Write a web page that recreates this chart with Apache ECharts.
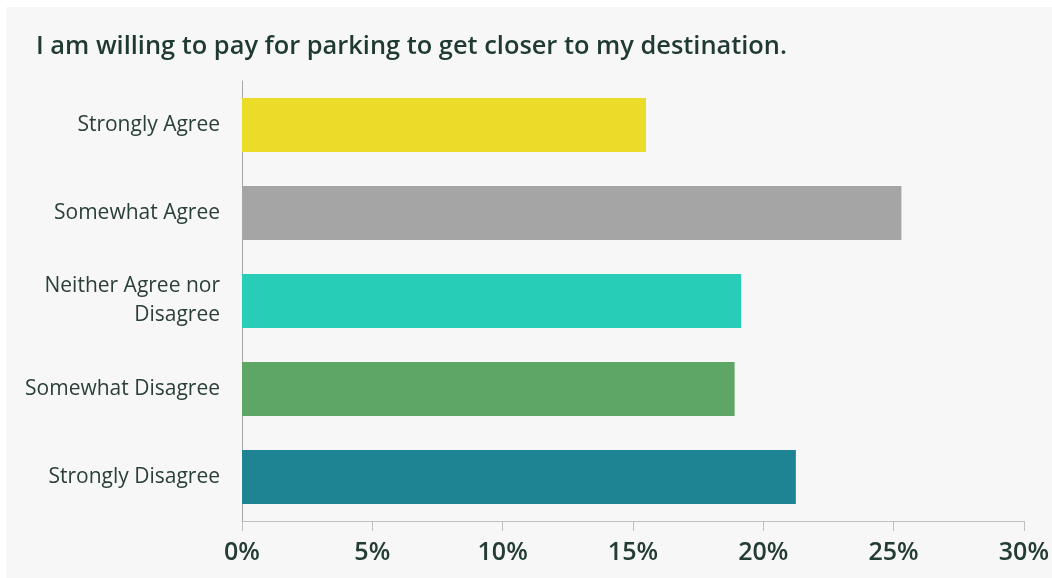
<!DOCTYPE html>
<html>
<head>
<meta charset="utf-8">
<script src="https://cdn.jsdelivr.net/npm/echarts@6/dist/echarts.min.js"></script>
<style>
  html, body { margin: 0; padding: 0; background: #ffffff; }
  #chart { position: absolute; left: 0; top: 0; width: 1052px; height: 578px; }
</style>
</head>
<body>
<div id="chart"></div>
<script>
// data
var categories = ['Strongly Agree', 'Somewhat Agree', 'Neither Agree nor\nDisagree', 'Somewhat Disagree', 'Strongly Disagree']
var values = [15.5, 25.3, 19.15, 18.9, 21.25]
var barColors = ['#ebdc29', '#a5a5a5', '#27cdb6', '#5ea665', '#1e8494']
var titleText = 'I am willing to pay for parking to get closer to my destination.'

var chart = echarts.init(document.getElementById('chart'))
var font = '"Open Sans", "Noto Sans", sans-serif'

var option = {
  animation: false,
  backgroundColor: 'transparent',
  graphic: [{
    type: 'rect',
    z: -10,
    shape: { x: 6, y: 7, width: 1046, height: 571 },
    style: { fill: '#f7f7f7' }
  }],
  title: {
    text: titleText,
    left: 31,
    top: 29,
    textStyle: {
      color: '#1f3a33',
      fontFamily: font,
      fontWeight: 600,
      fontSize: 25.4
    }
  },
  grid: {
    left: 242,
    right: 22,
    top: 81,
    height: 440,
    containLabel: false
  },
  xAxis: {
    type: 'value',
    min: 0,
    max: 30,
    interval: 5,
    axisLine: { show: true, lineStyle: { color: '#bfbfbf', width: 1 } },
    axisTick: { show: true, length: 10, lineStyle: { color: '#bfbfbf' } },
    splitLine: { show: false },
    axisLabel: {
      formatter: '{value}%',
      color: '#233c34',
      fontFamily: font,
      fontWeight: 600,
      fontSize: 25,
      margin: 19
    }
  },
  yAxis: {
    type: 'category',
    inverse: true,
    data: categories,
    axisLine: { show: true, lineStyle: { color: '#a6a6a6', width: 1 } },
    axisTick: { show: false },
    axisLabel: {
      color: '#2a3f38',
      fontFamily: font,
      fontSize: 21,
      lineHeight: 29,
      margin: 22,
      align: 'right'
    }
  },
  series: [{
    type: 'bar',
    barWidth: 54,
    data: values.map(function (v, i) {
      return { value: v, itemStyle: { color: barColors[i] } }
    })
  }]
}

chart.setOption(option)
</script>
</body>
</html>
